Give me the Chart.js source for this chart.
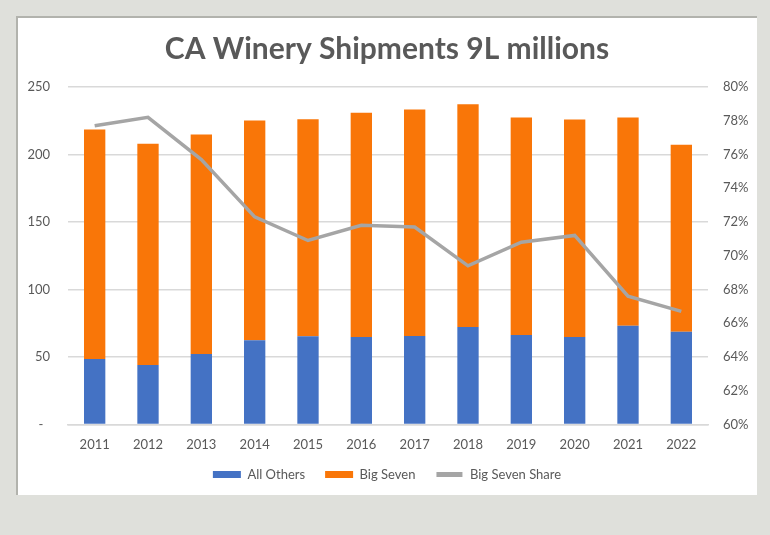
<!DOCTYPE html>
<html>
<head>
<meta charset="utf-8">
<title>CA Winery Shipments</title>
<script src="https://cdn.jsdelivr.net/npm/chart.js@4.4.0/dist/chart.umd.min.js"></script>
<style>
    html, body {
        margin: 0;
        padding: 0;
        background: #dfe0db;
        width: 770px;
        height: 535px;
        overflow: hidden;
    }
    .panel {
        position: absolute;
        left: 16px;
        top: 16px;
        width: 741px;
        height: 479px;
        background: #ffffff;
        border-top: 2px solid #b2b3ad;
        border-left: 2px solid #b2b3ad;
        box-sizing: border-box;
    }
    .chart-box {
        position: absolute;
        left: 17px;
        top: 17px;
        width: 740px;
        height: 478px;
    }
</style>
</head>
<body>
<div class="panel"></div>
<div class="chart-box"><canvas id="shipmentsChart"></canvas></div>

<script>
// Chart data (9L cases, millions)
const years = ['2011', '2012', '2013', '2014', '2015', '2016', '2017', '2018', '2019', '2020', '2021', '2022'];
const allOthers = [48.4, 44.0, 52.1, 62.3, 65.3, 64.7, 65.5, 72.2, 66.2, 64.7, 73.1, 68.7];
const bigSeven = [170.1, 164.0, 162.7, 162.9, 160.8, 166.3, 167.8, 165.0, 161.2, 161.2, 154.3, 138.6];
const bigSevenShare = [77.7, 78.2, 75.7, 72.3, 70.9, 71.8, 71.7, 69.4, 70.8, 71.2, 67.6, 66.7];

const leftTicks = [0, 50, 100, 150, 200, 250];
const rightTicks = [60, 62, 64, 66, 68, 70, 72, 74, 76, 78, 80];

const colors = {
    blue: '#4472c4',
    orange: '#f97608',
    grey: '#a5a5a5',
    text: '#595959',
    grid: '#d9d9d9'
};

const fontFamily = 'Lato, "Open Sans", sans-serif';

// Excel puts the legend closer to the axis labels than Chart.js does,
// so nudge the legend up once the layout is done
const legendNudge = {
    id: 'legendNudge',
    afterLayout: function(chart) {
        if (chart.legend) {
            chart.legend.top -= 18;
            chart.legend.bottom -= 18;
        }
    }
};

document.addEventListener('DOMContentLoaded', function() {
    createShipmentsChart();
});

function createShipmentsChart() {
    const ctx = document.getElementById('shipmentsChart').getContext('2d');

    new Chart(ctx, {
        type: 'bar',
        data: {
            labels: years,
            datasets: [
                {
                    label: 'All Others',
                    data: allOthers,
                    backgroundColor: colors.blue,
                    yAxisID: 'y',
                    stack: 'ship',
                    order: 2
                },
                {
                    label: 'Big Seven',
                    data: bigSeven,
                    backgroundColor: colors.orange,
                    yAxisID: 'y',
                    stack: 'ship',
                    order: 2
                },
                {
                    type: 'line',
                    label: 'Big Seven Share',
                    data: bigSevenShare,
                    borderColor: colors.grey,
                    backgroundColor: colors.grey,
                    borderWidth: 3.5,
                    pointRadius: 0,
                    tension: 0,
                    yAxisID: 'y1',
                    order: 1
                }
            ]
        },
        plugins: [legendNudge],
        options: {
            responsive: true,
            maintainAspectRatio: false,
            animation: false,
            layout: {
                padding: { left: 0, right: 0, top: 0, bottom: -14 }
            },
            datasets: {
                bar: {
                    categoryPercentage: 1.0,
                    barPercentage: 0.4
                }
            },
            plugins: {
                title: {
                    display: true,
                    text: 'CA Winery Shipments 9L millions',
                    color: colors.text,
                    font: { family: fontFamily, size: 30, weight: 'bold' },
                    padding: { top: 14, bottom: 20 }
                },
                legend: {
                    position: 'bottom',
                    labels: {
                        color: colors.text,
                        font: { family: fontFamily, size: 13 },
                        boxWidth: 28,
                        boxHeight: 7,
                        padding: 20,
                        sort: function(a, b) {
                            return a.datasetIndex - b.datasetIndex;
                        },
                        generateLabels: function(chart) {
                            const items = Chart.defaults.plugins.legend.labels.generateLabels(chart);
                            items.forEach(item => {
                                if (item.text === 'Big Seven Share') {
                                    // thin grey bar with white edges to look like a line
                                    item.fillStyle = colors.grey;
                                    item.strokeStyle = '#ffffff';
                                    item.lineWidth = 2;
                                } else {
                                    item.lineWidth = 0;
                                }
                            });
                            return items;
                        }
                    }
                },
                tooltip: { enabled: false }
            },
            scales: {
                x: {
                    stacked: true,
                    grid: { display: false, drawTicks: false },
                    border: { display: true, color: colors.grid, width: 1.5 },
                    ticks: {
                        color: colors.text,
                        font: { family: fontFamily, size: 13 },
                        padding: 13
                    }
                },
                y: {
                    stacked: true,
                    position: 'left',
                    min: 0,
                    max: 250,
                    afterBuildTicks: function(scale) {
                        scale.ticks = leftTicks.map(v => ({ value: v }));
                    },
                    afterFit: function(scale) {
                        scale.width = 51;
                    },
                    grid: { color: colors.grid, lineWidth: 1.5, drawTicks: false },
                    border: { display: false },
                    ticks: {
                        color: colors.text,
                        font: { family: fontFamily, size: 13 },
                        padding: 18,
                        callback: function(value) {
                            return value === 0 ? '-  ' : value;
                        }
                    }
                },
                y1: {
                    stacked: false,
                    position: 'right',
                    min: 60,
                    max: 80,
                    afterBuildTicks: function(scale) {
                        scale.ticks = rightTicks.map(v => ({ value: v }));
                    },
                    afterFit: function(scale) {
                        scale.width = 49;
                    },
                    grid: { display: false, drawTicks: false },
                    border: { display: false },
                    ticks: {
                        color: colors.text,
                        font: { family: fontFamily, size: 13 },
                        padding: 15,
                        callback: function(value) {
                            return value + '%';
                        }
                    }
                }
            }
        }
    });
}
</script>
</body>
</html>
